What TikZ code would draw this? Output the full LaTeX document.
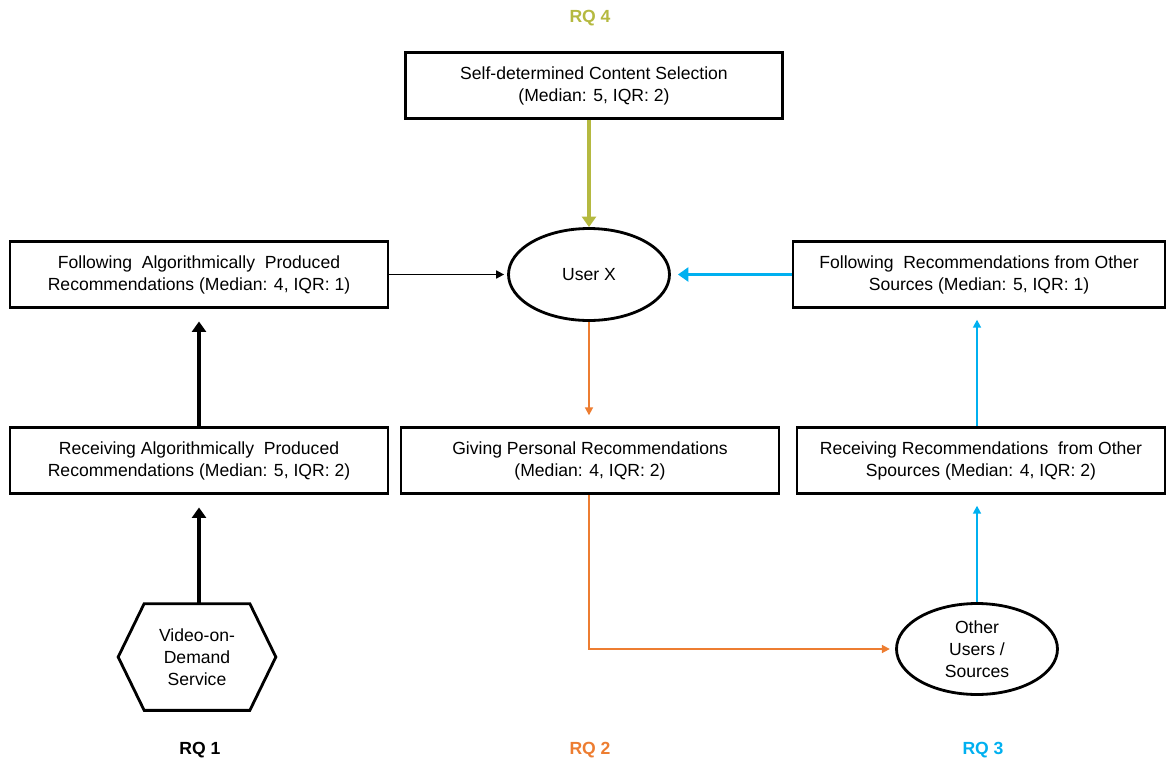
\documentclass[tikz,border=0pt]{standalone}
\usepackage{fontspec}
\setmainfont{Liberation Sans}
\usepackage{xcolor}
\usetikzlibrary{arrows.meta}
\usetikzlibrary{shapes.geometric,positioning}
\tikzset{font={\fontsize{10pt}{12.5pt}\selectfont}}
\definecolor{rqolive}{RGB}{181,185,64}
\definecolor{rqorange}{RGB}{237,125,49}
\definecolor{rqblue}{RGB}{0,176,240}

\begin{document}
\begin{tikzpicture}[x=0.02cm,y=-0.02cm,
box/.style={draw,line width=1.6pt,align=center,minimum width=7.56cm,minimum height=1.33cm,inner sep=0pt},
agent/.style={draw,ellipse,line width=1.6pt,align=center,minimum width=3.22cm,minimum height=1.84cm,inner sep=0pt},
rq/.style={font={\fontsize{10pt}{12pt}\selectfont\bfseries}},
thin arrow/.style={-{Triangle[length=4.5pt,width=4.5pt]},line width=1pt},
thick arrow/.style={-{Triangle[length=6pt,width=8pt]},line width=2.2pt}
]
\useasboundingbox (0,0) rectangle (1167,761);

\node[rq,text=rqolive] (rq4) at (590,18) {RQ 4};
\node[rq] (rq1) at (200,750) {RQ 1};
\node[rq,text=rqorange] (rq2) at (590,750) {RQ 2};
\node[rq,text=rqblue] (rq3) at (983,750) {RQ 3};

\node[box,minimum width=7.54cm] (self) at (594,85.5) {Self-determined Content Selection\\(Median: 5, IQR: 2)};
\node[agent] (user) at (589,274.5) {User X};
\node[box] (follalg) at (199,274.5) {Following\ \ Algorithmically\ \ Produced\\Recommendations (Median: 4, IQR: 1)};
\node[box,minimum width=7.44cm] (follother) at (979,274.5) {Following\ \ Recommendations from Other\\Sources (Median: 5, IQR: 1)};
\node[box] (recalg) at (199,460.5) {Receiving Algorithmically\ \ Produced\\Recommendations (Median: 5, IQR: 2)};
\node[box] (giving) at (590,460.5) {Giving Personal Recommendations\\(Median: 4, IQR: 2)};
\node[box,minimum width=7.36cm] (recother) at (981,460.5) {Receiving Recommendations\ \ from Other\\Spources (Median: 4, IQR: 2)};
\node[agent,minimum height=1.82cm] (others) at (977,649) {Other\\Users /\\Sources};

%hexagon round the service
\node[align=center,minimum width=3.14cm,minimum height=2.12cm,inner sep=0pt] (vod) at (197,657) {Video-on-\\Demand\\Service};
\draw[line width=1.6pt,line join=miter] (vod.west) -- ([xshift=0.52cm]vod.north west) -- ([xshift=-0.52cm]vod.north east) -- (vod.east) -- ([xshift=-0.52cm]vod.south east) -- ([xshift=0.52cm]vod.south west) -- cycle;

%arrows
\draw[thick arrow,rqolive] (self.south -| user.north) -- (user.north);
\draw[thin arrow,shorten >=1.7pt] (follalg.east) -- (user.west);
\draw[thick arrow,rqblue,shorten >=4pt] (follother.west) -- (user.east);
\draw[thin arrow,rqorange,shorten >=6pt] (user.south) -- (user.south |- giving.north);
\draw[thick arrow,shorten >=7pt] (recalg.north) -- (follalg.south);
\draw[thick arrow,shorten >=7pt] (vod.north -| recalg.south) -- (recalg.south);
\draw[thin arrow,rqorange,shorten >=3pt] (giving.south -| user.south) |- (others.west);
\draw[thin arrow,rqblue,shorten >=6pt] (others.north) -- (others.north |- recother.south);
\draw[thin arrow,rqblue,shorten >=6pt] (others.north |- recother.north) -- (others.north |- follother.south);

\end{tikzpicture}
\end{document}
